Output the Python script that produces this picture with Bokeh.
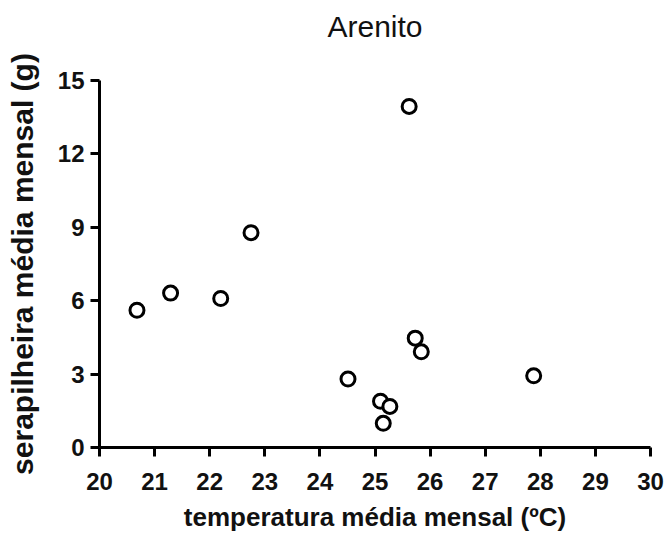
from bokeh.plotting import figure
from bokeh.models import Range1d, FixedTicker, Title
from bokeh.embed import file_html
from bokeh.resources import INLINE

# data
temperatura = [20.68, 21.29, 22.20, 22.75, 24.51, 25.10, 25.27, 25.15, 25.62, 25.73, 25.84, 27.88]
serapilheira = [5.61, 6.31, 6.09, 8.78, 2.80, 1.89, 1.68, 0.99, 13.94, 4.47, 3.91, 2.93]
x_ticks = [20, 21, 22, 23, 24, 25, 26, 27, 28, 29, 30]
y_ticks = [0, 3, 6, 9, 12, 15]
titulo = "Arenito"

FONT = "Liberation Sans"

p = figure(width=667, height=536, output_backend="svg", toolbar_location=None,
           x_range=Range1d(x_ticks[0], x_ticks[-1]), y_range=Range1d(y_ticks[0], y_ticks[-1]),
           title=None,
           x_axis_label="temperatura média mensal (ºC)",
           y_axis_label="serapilheira média mensal (g)",
           min_border_left=99, min_border_right=17, min_border_top=0, min_border_bottom=89)

p.outline_line_color = None
p.grid.visible = False
p.background_fill_color = "white"
p.border_fill_color = "white"

# spacer between frame and title, then the title itself
p.add_layout(Title(text=" ", text_font_size="1px", standoff=24), "above")
p.add_layout(Title(text=titulo, align="center", vertical_align="top", standoff=18,
                   text_font=FONT, text_font_size="30px", text_font_style="normal",
                   text_color="#111111"), "above")

for ax in (p.xaxis[0], p.yaxis[0]):
    ax.axis_line_width = 3
    ax.axis_line_color = "black"
    ax.major_tick_line_width = 3
    ax.major_tick_line_color = "black"
    ax.major_tick_out = 9
    ax.major_tick_in = 0
    ax.minor_tick_line_color = None
    ax.major_label_text_font = FONT
    ax.major_label_text_font_style = "bold"
    ax.major_label_text_font_size = "24px"
    ax.major_label_text_color = "#111111"
    ax.axis_label_text_font = FONT
    ax.axis_label_text_font_style = "bold"
    ax.axis_label_text_color = "#111111"

p.xaxis[0].axis_label_text_font_size = "26px"
p.yaxis[0].axis_label_text_font_size = "30px"
p.xaxis[0].ticker = FixedTicker(ticks=x_ticks)
p.yaxis[0].ticker = FixedTicker(ticks=y_ticks)
p.xaxis[0].major_label_standoff = 16
p.yaxis[0].major_label_standoff = 6
p.xaxis[0].axis_label_standoff = 9
p.yaxis[0].axis_label_standoff = 16

p.scatter(temperatura, serapilheira, marker="circle", size=14,
          fill_color="white", line_color="black", line_width=3)

open("out.html", "w").write(file_html(p, INLINE))
